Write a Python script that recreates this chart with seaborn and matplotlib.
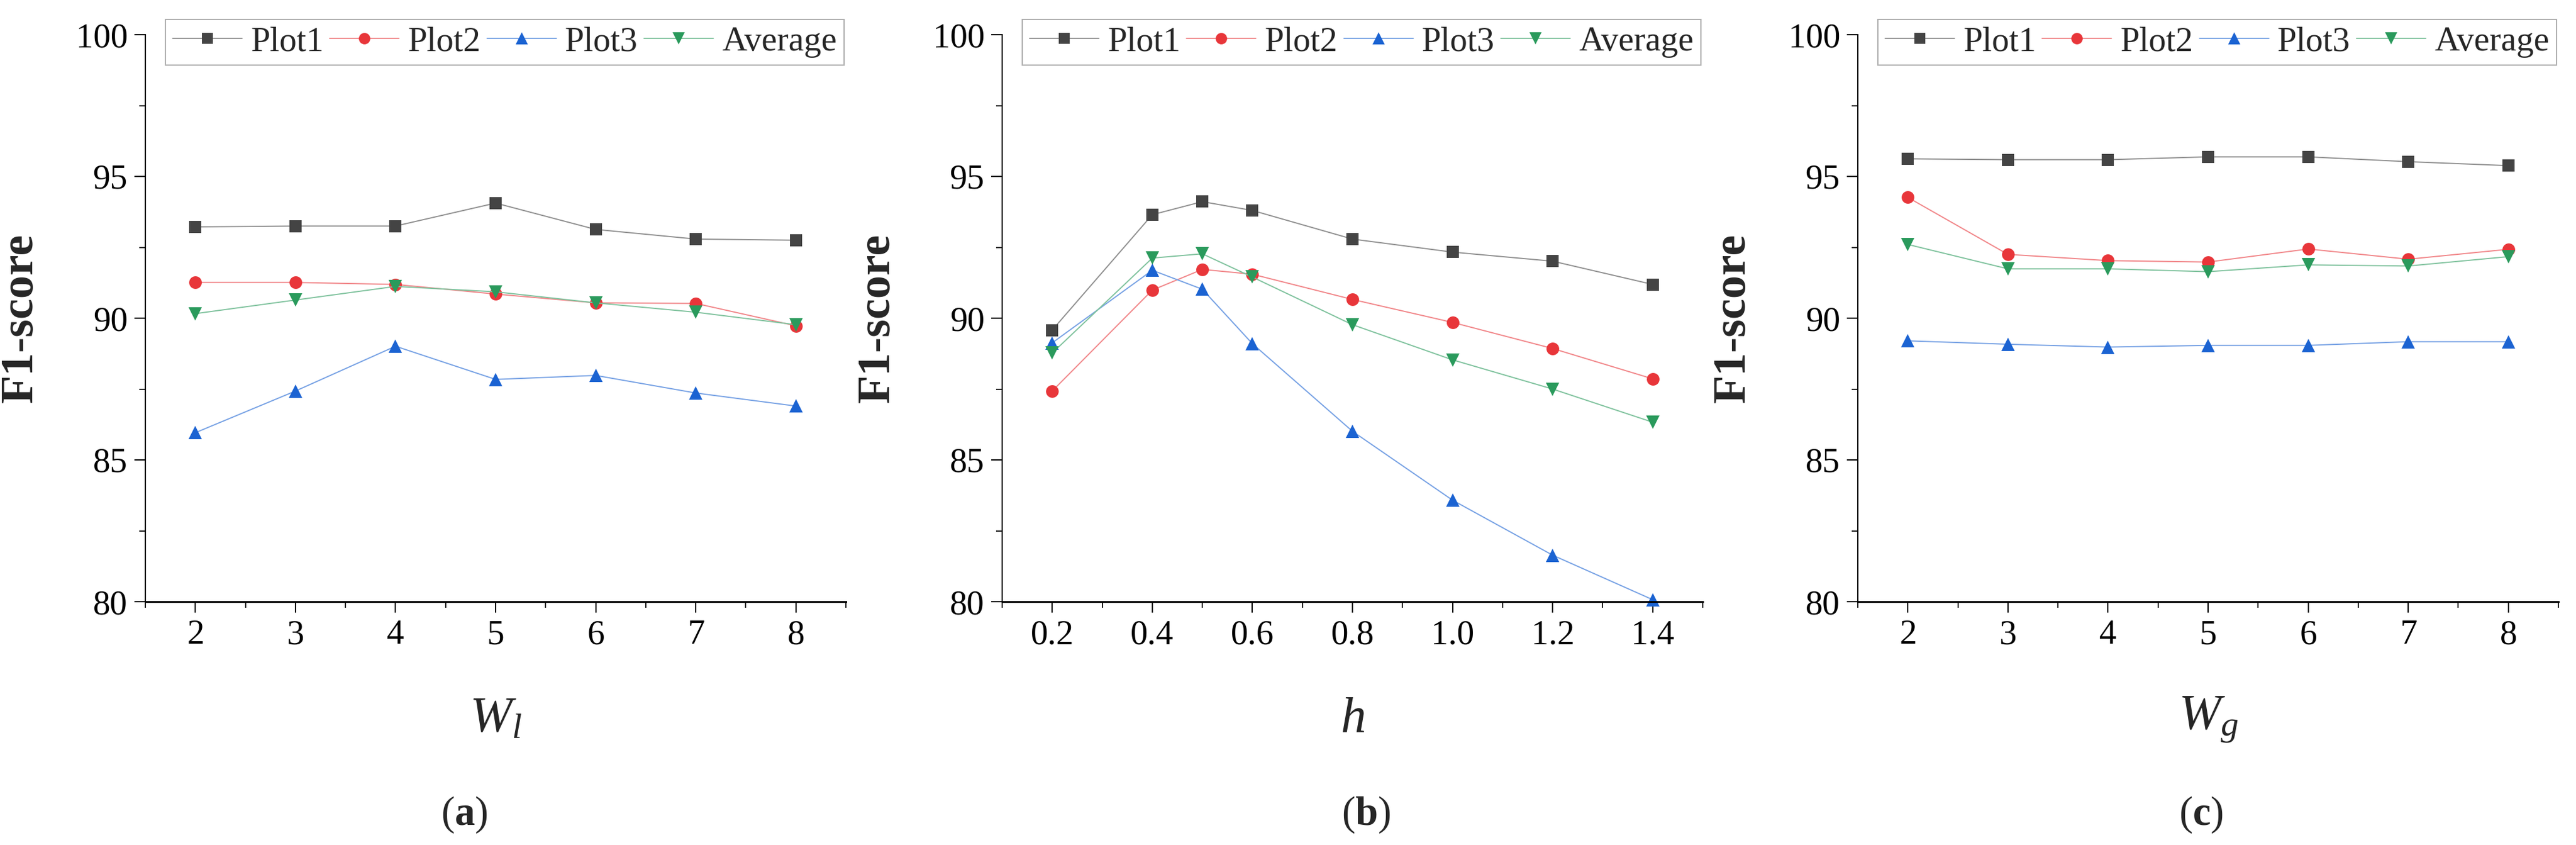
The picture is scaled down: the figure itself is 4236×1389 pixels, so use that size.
import numpy as np
import pandas as pd
import matplotlib
matplotlib.use("Agg")
import matplotlib.pyplot as plt
from matplotlib.lines import Line2D
from matplotlib.ticker import MultipleLocator
from matplotlib.colors import to_rgb
import seaborn as sns

# ---- data ----
series_names = ["Plot1", "Plot2", "Plot3", "Average"]

wl_x = [2, 3, 4, 5, 6, 7, 8]
wl_plot1 = [93.22, 93.25, 93.25, 94.06, 93.13, 92.79, 92.75]
wl_plot2 = [91.26, 91.26, 91.19, 90.85, 90.54, 90.52, 89.73]
wl_plot3 = [85.96, 87.43, 89.01, 87.84, 87.98, 87.36, 86.90]
wl_avg = [90.16, 90.64, 91.12, 90.93, 90.54, 90.21, 89.77]

h_x = [0.2, 0.4, 0.5, 0.6, 0.8, 1.0, 1.2, 1.4]
h_plot1 = [89.58, 93.65, 94.11, 93.80, 92.79, 92.33, 92.01, 91.19]
h_plot2 = [87.43, 90.99, 91.72, 91.55, 90.66, 89.85, 88.93, 87.86]
h_plot3 = [89.13, 91.69, 91.02, 89.10, 86.01, 83.58, 81.64, 80.07]
h_avg = [88.77, 92.12, 92.27, 91.45, 89.77, 88.53, 87.50, 86.33]

wg_x = [2, 3, 4, 5, 6, 7, 8]
wg_plot1 = [95.62, 95.59, 95.59, 95.69, 95.69, 95.52, 95.38]
wg_plot2 = [94.26, 92.25, 92.03, 91.98, 92.44, 92.08, 92.43]
wg_plot3 = [89.20, 89.08, 88.98, 89.04, 89.04, 89.17, 89.17]
wg_avg = [92.60, 91.74, 91.74, 91.64, 91.88, 91.84, 92.17]

panel_xlabels = [r"$W_l$", r"$h$", r"$W_g$"]
panel_tags = ["a", "b", "c"]
y_label = "F1-score"

# ---- styling ----
colors = {"Plot1": "#444444", "Plot2": "#e8363a", "Plot3": "#1b63d2", "Average": "#2a9a5c"}
markers = {"Plot1": "s", "Plot2": "o", "Plot3": "^", "Average": "v"}
msizes = {"Plot1": 14, "Plot2": 15, "Plot3": 16, "Average": 16}


def pale(c, f=0.5):
    r = np.array(to_rgb(c))
    return tuple(r * (1 - f) + f)


def long_df(x, p1, p2, p3, avg):
    frames = []
    for name, vals in zip(series_names, [p1, p2, p3, avg]):
        frames.append(pd.DataFrame({"x": x, "f1": vals, "series": name}))
    return pd.concat(frames, ignore_index=True)


panels = [
    dict(df=long_df(wl_x, wl_plot1, wl_plot2, wl_plot3, wl_avg), xlim=(1.5, 8.5),
         minor=0.5, ticks=wl_x, fmt="{:.0f}", tag_x=0.455),
    dict(df=long_df(h_x, h_plot1, h_plot2, h_plot3, h_avg), xlim=(0.1, 1.5),
         minor=0.1, ticks=[0.2, 0.4, 0.6, 0.8, 1.0, 1.2, 1.4], fmt="{:.1f}", tag_x=0.519),
    dict(df=long_df(wg_x, wg_plot1, wg_plot2, wg_plot3, wg_avg), xlim=(1.5, 8.5),
         minor=0.5, ticks=wg_x, fmt="{:.0f}", tag_x=0.49),
]

sns.set_theme(style="ticks")
plt.rcParams["font.family"] = ["Liberation Serif", "DejaVu Serif"]
plt.rcParams["mathtext.fontset"] = "custom"
plt.rcParams["mathtext.rm"] = "Liberation Serif"
plt.rcParams["mathtext.it"] = "Liberation Serif:italic"
plt.rcParams["mathtext.bf"] = "Liberation Serif:bold"

W, H = 4236, 1389
fig = plt.figure(figsize=(W / 100, H / 100), dpi=100)
fig.patch.set_facecolor("white")

ax_lefts = [239, 1648, 3055]
ax_w, ax_top, ax_bot = 1152, 57, 989

for i, p in enumerate(panels):
    ax = fig.add_axes([ax_lefts[i] / W, (H - ax_bot) / H, ax_w / W, (ax_bot - ax_top) / H])
    sns.lineplot(data=p["df"], x="x", y="f1", hue="series", style="series",
                 hue_order=series_names, style_order=series_names,
                 palette=colors, markers=markers, dashes=False, legend=False,
                 linewidth=1.4, markeredgewidth=0, ax=ax)
    # thin pale connecting lines, solid markers
    for line, name in zip(ax.lines, series_names):
        line.set_color(pale(colors[name], 0.4))
        line.set_markerfacecolor(colors[name])
        line.set_markeredgecolor(colors[name])
        line.set_markersize(msizes[name])
        line.set_clip_on(False)

    ax.set_xlim(*p["xlim"])
    ax.set_ylim(80, 100)
    ax.set_xticks(p["ticks"])
    ax.set_xticklabels([p["fmt"].format(t) for t in p["ticks"]])
    ax.xaxis.set_minor_locator(MultipleLocator(p["minor"]))
    ax.yaxis.set_major_locator(MultipleLocator(5))
    ax.yaxis.set_minor_locator(MultipleLocator(2.5))
    ax.tick_params(axis="both", which="major", direction="out", length=13, width=1.5,
                   labelsize=41, pad=8, color="black", labelcolor="black")
    ax.tick_params(axis="both", which="minor", direction="out", length=7, width=1.3, color="black")
    sns.despine(ax=ax)
    ax.spines["left"].set_linewidth(1.5)
    ax.spines["bottom"].set_linewidth(2.2)
    ax.spines["left"].set_color("black")
    ax.spines["bottom"].set_color("black")
    ax.set_facecolor("white")
    ax.grid(False)

    ax.set_ylabel(y_label, fontsize=55, fontweight="bold")
    ax.yaxis.set_label_coords(-0.148, 0.5)
    ax.set_xlabel(panel_xlabels[i], fontsize=60)
    ax.xaxis.set_label_coords(0.5, -0.208)
    ax.xaxis.label.set_va("center")

    ax.text(p["tag_x"], -0.376, "(" + r"$\mathbf{" + panel_tags[i] + "}$" + ")",
            transform=ax.transAxes, ha="center", va="center", fontsize=48)

    handles = [Line2D([0], [0], color=pale(colors[n], 0.4), lw=1.4, marker=markers[n],
                      markersize=msizes[n] * 0.9, markerfacecolor=colors[n],
                      markeredgewidth=0, label=n) for n in series_names]
    leg = ax.legend(handles=handles, loc="upper left", ncol=4, mode="expand",
                    bbox_to_anchor=(0.029, 0.94, 0.968, 0.087), fontsize=41,
                    frameon=True, fancybox=False, borderpad=0.2, handlelength=2.0,
                    handletextpad=0.25, columnspacing=0.3, borderaxespad=0)
    leg.get_frame().set_edgecolor("#9a9a9a")
    leg.get_frame().set_linewidth(1.5)

fig.savefig("out.png", dpi=100, facecolor="white")
